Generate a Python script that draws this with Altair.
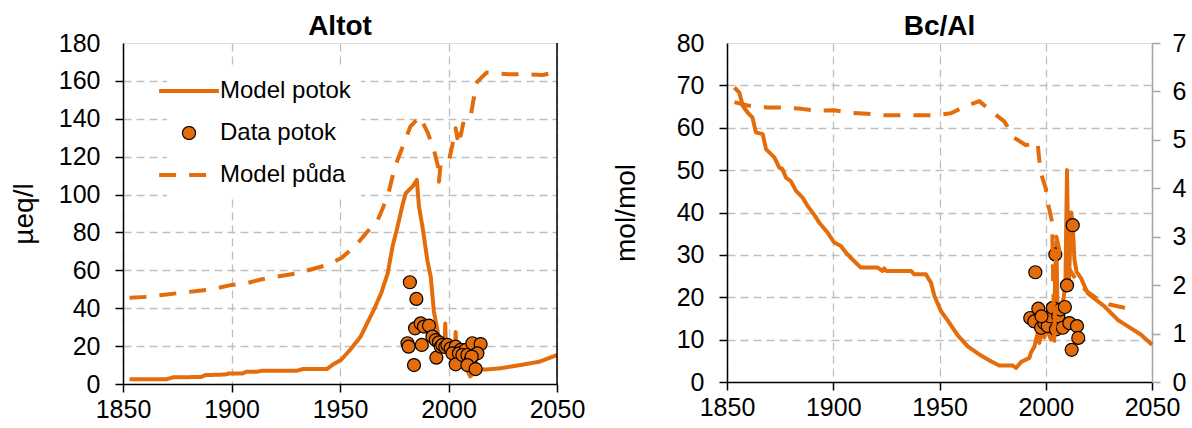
import altair as alt
import pandas as pd

ORANGE = "#E46C0A"
GRID = "#BFBFBF"
FONT = "Liberation Sans"

series_names = ["Model potok", "Data potok", "Model půda"]
x_ticks = [1850, 1900, 1950, 2000, 2050]
al_y_ticks = [0, 20, 40, 60, 80, 100, 120, 140, 160, 180]
bc_y_ticks = [0, 10, 20, 30, 40, 50, 60, 70, 80]
bc_y2_ticks = [0, 1, 2, 3, 4, 5, 6, 7]

# ---------------- Altot (left panel) ----------------
al_model_year = [1853, 1870, 1873, 1886, 1888, 1897, 1899, 1905, 1907, 1912, 1914, 1930, 1933, 1944,
                 1947, 1950.5, 1955, 1959.5, 1965.5, 1969, 1972, 1974.2, 1976.5, 1978.8, 1980.3,
                 1983.4, 1985.4, 1986.4, 1988, 1990.3, 1991.8, 1993.3, 1994.9, 1995.8, 1997,
                 1998.2, 1998.5, 1998.8, 2001, 2003, 2003.3, 2003.6, 2005, 2006, 2007, 2008, 2009,
                 2010, 2011, 2012.5, 2014, 2017, 2024, 2033, 2042, 2050]
al_model_val = [2.5, 2.5, 3.5, 3.7, 4.7, 5.0, 5.6, 5.6, 6.5, 6.5, 7.0, 7.0, 7.9, 7.9,
                10.5, 12.7, 18.5, 25, 39, 48, 58.5, 72.5, 83, 94.5, 100.7,
                104.2, 107.7, 93.6, 83, 65, 56.7, 38, 28.5, 22, 20.5,
                20, 32, 20, 19.5, 19.5, 27.5, 19, 18, 17, 14, 9, 6.5,
                4, 5, 8, 8, 7.6, 8.3, 10, 11.8, 15.3]

al_soil_year = [1853, 1861, 1868, 1875, 1884, 1891, 1900, 1907, 1914, 1921, 1930, 1937, 1944,
                1950.5, 1956.8, 1962, 1967.4, 1970, 1972.7, 1975.3, 1978.9, 1982.4, 1986.8,
                1990.3, 1993.1, 1995.2, 1995.6, 1996.4, 2000.2, 2001.8, 2003.3, 2004.1, 2005,
                2005.6, 2007.1, 2010.2, 2011.5, 2013.3, 2017.6, 2027.6, 2035, 2043.5, 2050]
al_soil_val = [45.5, 46, 47, 47.9, 49.1, 50, 52.3, 53.2, 55.3, 56.7, 58.4, 60.6, 62.8,
               66.4, 72.5, 79.6, 86.6, 93.6, 102.4, 114.7, 125.3, 135.8, 141.1,
               133, 124.4, 114.7, 106.8, 116.5, 117.9, 126.2, 135, 129.7, 136,
               131, 139.4, 141.1, 149.9, 159.6, 164.4, 163.5, 163.5, 163.1, 164.9]

al_data_year = [1982.2, 1985.2, 1984.6, 1987.2, 1988.7, 1991, 1981.1, 1981.6, 1987.7, 1984.1,
                1992.6, 1994.1, 1995.6, 1994.4, 1996.4, 1997.2, 1998.5, 1999.5, 2001, 2003.3,
                2005.6, 2001.8, 2004.8, 2007.9, 2003.3, 2006.4, 2008.7, 2011, 2014.8, 2013.3,
                2010.2, 2010.7, 2008.7, 2012.5]
al_data_val = [53.7, 44.9, 29.4, 32, 30.3, 30.8, 21.5, 19.7, 20.6, 10,
               25, 23.2, 22, 13.9, 19.7, 20.6, 19.5, 20.6, 18.8, 19.7,
               18, 16.2, 16.2, 18, 10.4, 15.3, 15.3, 21.5, 21.1, 16.2,
               12.7, 14.5, 10, 7.9]

# ---------------- Bc/Al (right panel) ----------------
bc_model_year = [1853.5, 1855.8, 1857.4, 1859.7, 1862, 1863.6, 1866.8, 1868.4, 1872.3, 1874.6,
                 1876, 1877.8, 1880, 1882.5, 1885.6, 1888, 1891, 1893.4, 1897.4, 1900.5, 1903.6,
                 1906, 1909.9, 1913, 1920.9, 1923.1, 1924, 1925, 1936.6, 1938.1, 1943.6, 1946,
                 1947.6, 1950.7, 1953.9, 1958.6, 1963.3, 1968.7, 1974.2, 1978.1, 1984.4, 1986,
                 1988.4, 1992.3, 1993, 1994.7, 1995.4, 1996.2, 1997, 1998, 1999.3, 2000.1, 2001,
                 2002.4, 2003.3, 2004, 2005, 2005.6, 2006.5, 2007.5, 2008.5, 2009.3, 2010, 2010.8,
                 2012, 2012.8, 2013.5, 2014.5, 2016.6, 2019.7, 2021.3, 2027.5, 2033.8, 2038.5,
                 2044.7, 2050]
bc_model_val = [69.5, 68.3, 65.2, 63.6, 62.4, 58.9, 58.5, 54.9, 53, 50.6,
                50.3, 48.2, 47.4, 45.1, 43.5, 41.5, 39.5, 37.6, 35.2, 32.9, 32.1,
                30.5, 28.5, 27, 27, 26.2, 26.8, 26.2, 26.2, 25.4, 25.4, 23.4,
                20.3, 16.7, 14.5, 11, 8.4, 6.5, 4.9, 3.9, 3.9, 3.3,
                4.7, 5.7, 6.9, 8.4, 10, 11.5, 9.2, 12, 10.5, 13.2, 12,
                10, 14, 17, 33, 15, 16, 18, 20, 24, 50, 22,
                40, 36, 28.9, 26, 24.5, 21, 20.3, 17.9, 14.7, 13.2,
                11.2, 8.8]

bc_soil_year = [1853.5, 1859.7, 1869, 1876, 1885, 1892, 1900.5, 1907.5, 1916, 1923, 1932.7,
                1939.7, 1948, 1955.4, 1962.5, 1968.7, 1975.8, 1980.5, 1985.2, 1990.7, 1994,
                1996.2, 1996.7, 1997.8, 2000, 2001.5, 2003, 2004, 2005, 2006.5, 2008.5, 2011,
                2013, 2015, 2020, 2025, 2030, 2035.4, 2042.4]
bc_soil_val = [5.78, 5.71, 5.67, 5.67, 5.64, 5.60, 5.61, 5.56, 5.54, 5.51, 5.51,
               5.51, 5.51, 5.55, 5.70, 5.80, 5.54, 5.38, 5.04, 4.89, 4.93,
               4.96, 4.68, 4.30, 4.0, 3.6, 3.3, 0.85, 3.0, 2.7, 2.45, 2.34,
               2.2, 2.06, 1.85, 1.7, 1.6, 1.55, 1.48]

bc_data_year = [2012.7, 2004.5, 1995.1, 2010, 1992.7, 1994.6, 1996.5, 1997.8, 1999.3, 2000.9,
                2002.1, 2003.3, 2004.8, 2005.9, 2006.8, 2009, 2008, 2011.1, 2014.7, 2015.3,
                2012.2, 1998]
bc_data_val = [37, 30.1, 25.9, 22.8, 15.1, 14.3, 17.3, 12.8, 13.9, 13.2,
               15.5, 17.5, 12.4, 15.5, 17.1, 17.7, 12.8, 13.9, 13.2, 10.4,
               7.6, 15.5]

# ---------------- tables ----------------
df_al_lines = pd.concat([
    pd.DataFrame({"year": al_model_year, "value": al_model_val, "series": series_names[0]}),
    pd.DataFrame({"year": al_soil_year, "value": al_soil_val, "series": series_names[2]}),
], ignore_index=True)
df_al_pts = pd.DataFrame({"year": al_data_year, "value": al_data_val, "series": series_names[1]})
df_al_frame = pd.DataFrame({"year": [x_ticks[-1]], "y0": [al_y_ticks[0]], "y1": [al_y_ticks[-1]]})

df_bc_model = pd.DataFrame({"year": bc_model_year, "value": bc_model_val})
df_bc_soil = pd.DataFrame({"year": bc_soil_year, "value": bc_soil_val})
df_bc_pts = pd.DataFrame({"year": bc_data_year, "value": bc_data_val})

# ---------------- shared pieces ----------------
LINE_SYM = "M-4.6,0H4.6"
DASH = [17, 13]
LBL = 25

xscale = alt.Scale(domain=[x_ticks[0], x_ticks[-1]], nice=False, zero=False, padding=0)
xaxis = alt.Axis(values=x_ticks, format="d", title=None, grid=True, gridColor=GRID,
                 gridDash=[8, 5], gridWidth=1.3, domainColor="black", domainWidth=1.5,
                 tickColor="black", tickWidth=1.5, tickSize=8, labelFontSize=LBL,
                 labelFont=FONT, labelColor="black", labelPadding=5, labelOverlap=False,
                 labelFlush=False)


def yaxis(values, title, title_pad, top):
    return alt.Axis(values=values, title=title, grid=True, gridColor=GRID, gridDash=[8, 5],
                    gridWidth=1.3,
                    gridOpacity={"condition": {"test": f"datum.value >= {top} || datum.value <= 0", "value": 0}, "value": 1},
                    tickOpacity={"condition": {"test": f"datum.value >= {top}", "value": 0}, "value": 1},
                    domainColor="black", domainWidth=1.5, tickColor="black", tickWidth=1.5,
                    tickSize=8, labelFontSize=LBL, labelFont=FONT, labelColor="black",
                    labelPadding=15, titleFont=FONT, titleFontSize=28, titleFontWeight="normal",
                    titleColor="black", titlePadding=title_pad, labelOverlap=False,
                    labelFlush=False)


legend_al = alt.Legend(title=None, orient="none", legendX=44, legendY=26, fillColor="white",
                       padding=10, labelFontSize=24, labelFont=FONT, labelColor="black",
                       symbolSize=169, labelOffset=19, rowPadding=18, symbolOpacity=1,
                       labelLimit=400)

stroke_scale = alt.Scale(domain=series_names, range=[ORANGE, "black", ORANGE])
fill_scale = alt.Scale(domain=series_names, range=[ORANGE, ORANGE, ORANGE])
dash_scale = alt.Scale(domain=series_names, range=[[1, 0], [1, 0], DASH])
sw_scale = alt.Scale(type="ordinal", domain=series_names, range=[4, 1.2, 4])
shape_scale = alt.Scale(domain=series_names, range=[LINE_SYM, "circle", LINE_SYM])

al_y = alt.Scale(domain=[al_y_ticks[0], al_y_ticks[-1]], nice=False, padding=0)
al_yaxis = yaxis(al_y_ticks, "µeq/l", 20, 180)

al_lines = alt.Chart(df_al_lines).mark_line(strokeJoin="round").encode(
    x=alt.X("year:Q", scale=xscale, axis=xaxis),
    y=alt.Y("value:Q", scale=al_y, axis=al_yaxis),
    stroke=alt.Stroke("series:N", scale=stroke_scale, legend=legend_al),
    strokeDash=alt.StrokeDash("series:N", scale=dash_scale, legend=legend_al),
    strokeWidth=alt.StrokeWidth("series:N", scale=sw_scale, legend=legend_al),
)
al_pts = alt.Chart(df_al_pts).mark_point(filled=True, opacity=1, size=169).encode(
    x=alt.X("year:Q", scale=xscale, axis=xaxis),
    y=alt.Y("value:Q", scale=al_y, axis=al_yaxis),
    fill=alt.Fill("series:N", scale=fill_scale, legend=legend_al),
    stroke=alt.Stroke("series:N", scale=stroke_scale, legend=legend_al),
    shape=alt.Shape("series:N", scale=shape_scale, legend=legend_al),
    strokeWidth=alt.StrokeWidth("series:N", scale=sw_scale, legend=legend_al),
)
al_frame = alt.Chart(df_al_frame).mark_rule(color="black", strokeWidth=1.5).encode(
    x=alt.X("year:Q", scale=xscale, axis=xaxis),
    y=alt.Y("y0:Q", scale=al_y, axis=al_yaxis),
    y2="y1:Q",
)

left = alt.layer(al_lines, al_frame, al_pts).properties(
    width=434, height=341,
    title=alt.TitleParams("Altot", font=FONT, fontSize=28, fontWeight="bold", color="black",
                          anchor="middle", frame="group", offset=-10),
)

# ---------------- right panel ----------------
bc_y = alt.Scale(domain=[bc_y_ticks[0], bc_y_ticks[-1]], nice=False, padding=0)
bc_y2 = alt.Scale(domain=[bc_y2_ticks[0], bc_y2_ticks[-1]], nice=False, padding=0)
bc_yaxis = yaxis(bc_y_ticks, "mol/mol", 36, 80)
bc_y2axis = alt.Axis(values=bc_y2_ticks, orient="right", title=None, grid=False,
                     domainColor="#A6A6A6", domainWidth=1.5, tickColor="#A6A6A6", tickWidth=1.5,
                     tickSize=8, labelFontSize=LBL, labelFont=FONT, labelColor="black",
                     labelPadding=12, labelFlush=False)

bc_line = alt.Chart(df_bc_model).mark_line(color=ORANGE, strokeWidth=4, strokeJoin="round").encode(
    x=alt.X("year:Q", scale=xscale, axis=xaxis),
    y=alt.Y("value:Q", scale=bc_y, axis=bc_yaxis),
)
bc_pts = alt.Chart(df_bc_pts).mark_point(filled=True, opacity=1, size=169, fill=ORANGE,
                                          stroke="black", strokeWidth=1.2).encode(
    x=alt.X("year:Q", scale=xscale, axis=xaxis),
    y=alt.Y("value:Q", scale=bc_y, axis=bc_yaxis),
)
bc_soil = alt.Chart(df_bc_soil).mark_line(color=ORANGE, strokeWidth=4, strokeDash=DASH,
                                          strokeJoin="round").encode(
    x=alt.X("year:Q", scale=xscale, axis=xaxis),
    y=alt.Y("value:Q", scale=bc_y2, axis=bc_y2axis),
)

right = alt.layer(alt.layer(bc_line, bc_pts), bc_soil).resolve_scale(y="independent").properties(
    width=425, height=339,
    title=alt.TitleParams("Bc/Al", font=FONT, fontSize=28, fontWeight="bold", color="black",
                          anchor="middle", frame="group", offset=-10),
)

chart = alt.hconcat(left, right, spacing=25).properties(
    padding={"left": 9, "top": 12, "right": 0, "bottom": 0}
).configure_view(stroke=None).configure(background="white")

chart.save("out.html", embed_options={"renderer": "svg", "actions": False})
